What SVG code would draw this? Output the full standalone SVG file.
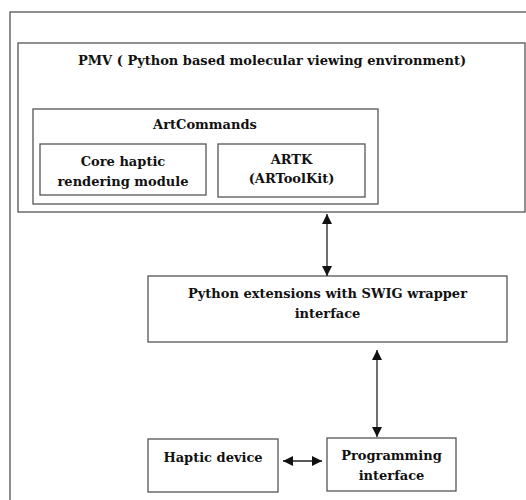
<svg xmlns="http://www.w3.org/2000/svg" width="526" height="500" viewBox="0 0 526 500">
<style>
.box{fill:none;stroke:#555;stroke-width:1.3}
.t{font-family:"DejaVu Serif","Liberation Serif",serif;font-weight:bold;font-size:13px;fill:#111;text-anchor:middle}
.c{stroke:#222;stroke-width:1.3;fill:none}
</style>
<defs>
<marker id="ah" viewBox="0 0 10 10" refX="10" refY="5" markerWidth="10" markerHeight="10" markerUnits="userSpaceOnUse" orient="auto-start-reverse">
<path d="M0,0 L10,5 L0,10 Z" fill="#111"/>
</marker>
</defs>
<rect width="526" height="500" fill="#fff"/>
<g id="outer"><rect class="box" x="10" y="12" width="530" height="500"/></g>
<g id="pmv">
<rect class="box" x="18" y="43" width="507" height="169"/>
<text class="t" x="272" y="65">PMV ( Python based molecular viewing environment)</text>
</g>
<g id="artcommands">
<rect class="box" x="33" y="109" width="345" height="95"/>
<text class="t" x="205" y="129">ArtCommands</text>
</g>
<g id="core">
<rect class="box" x="40" y="144" width="166" height="51"/>
<text class="t" x="123" y="166">Core haptic</text>
<text class="t" x="123" y="186">rendering module</text>
</g>
<g id="artk">
<rect class="box" x="218" y="144" width="147" height="53"/>
<text class="t" x="291.5" y="164">ARTK</text>
<text class="t" x="291.5" y="183">(ARToolKit)</text>
</g>
<g id="python">
<rect class="box" x="148" y="276" width="359" height="66"/>
<text class="t" x="327.5" y="298">Python extensions with SWIG wrapper</text>
<text class="t" x="327.5" y="318">interface</text>
</g>
<g id="haptic">
<rect class="box" x="148" y="439" width="130" height="53"/>
<text class="t" x="213" y="462">Haptic device</text>
</g>
<g id="programming">
<rect class="box" x="327" y="438" width="129" height="53"/>
<text class="t" x="391.5" y="460">Programming</text>
<text class="t" x="391.5" y="480">interface</text>
</g>
<g id="connectors">
<line class="c" x1="327" y1="214" x2="327" y2="276" marker-start="url(#ah)" marker-end="url(#ah)"/>
<line class="c" x1="377" y1="350" x2="377" y2="437" marker-start="url(#ah)" marker-end="url(#ah)"/>
<line class="c" x1="283" y1="461" x2="322" y2="461" marker-start="url(#ah)" marker-end="url(#ah)"/>
</g>
</svg>
